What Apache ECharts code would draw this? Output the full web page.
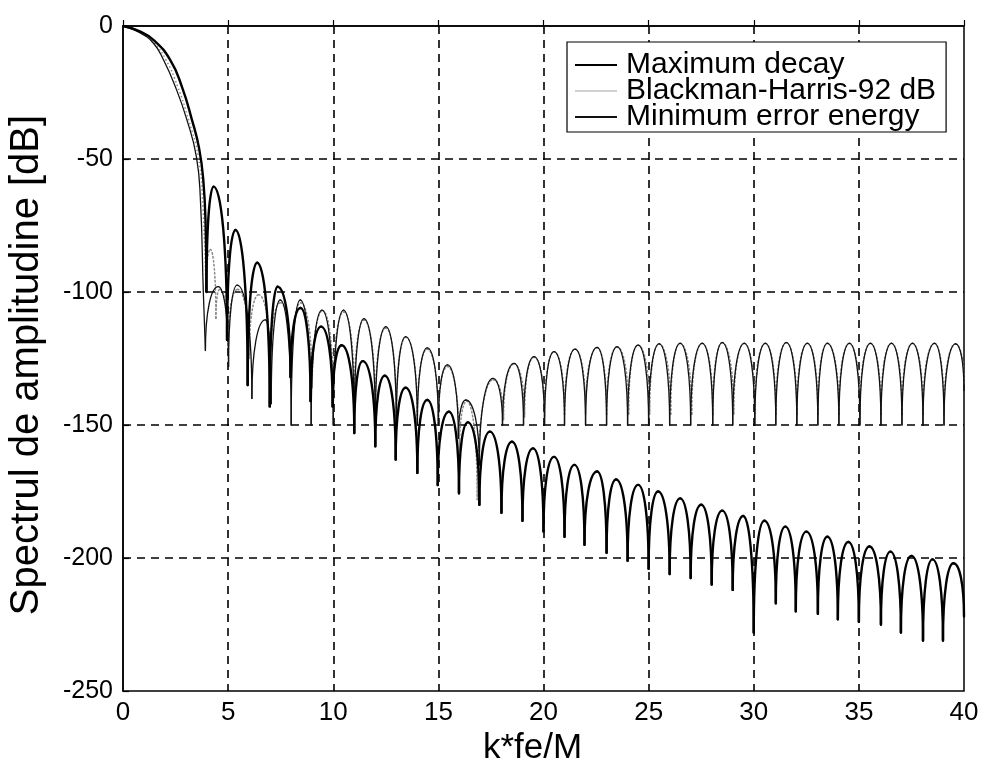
<!DOCTYPE html>
<html><head><meta charset="utf-8">
<script src="https://cdn.jsdelivr.net/npm/echarts/dist/echarts.min.js"></script>
<style>html,body{margin:0;padding:0;background:#fff}#c{width:983px;height:760px}</style>
</head><body><div id="c"></div>
<script>
const xMin = 0, xMax = 40, xStep = 5;
const yMin = -250, yMax = 0, yStep = 50;
const xName = 'k*fe/M';
const yName = 'Spectrul de amplitudine [dB]';
const seriesNames = ['Maximum decay', 'Blackman-Harris-92 dB', 'Minimum error energy'];

// ---- Maximum decay ----
const maxDecayMain = [[0,0],[0.8,-2],[1.46,-5.3],[2.25,-12.8],[2.8,-22.8],[3.28,-35.3],[3.62,-46],[3.82,-58],[3.93,-75],[3.97,-100]];
// alternating nulls / sidelobe peaks
const maxDecayLobes = [[3.97,-100],
 [4.31,-60.4],[4.95,-118],[5.35,-76.7],[5.93,-135],[6.38,-89],[6.98,-143],[7.35,-98],[7.97,-132],[8.44,-106],[8.92,-141],
 [9.42,-113],[9.97,-143],[10.4,-120],[11.0,-153],[11.4,-126],[12.0,-158],[12.45,-131.5],[12.97,-163],[13.44,-136],[14.0,-168],
 [14.47,-140.6],[14.97,-172.6],[15.5,-145],[15.98,-175.7],[16.4,-149],[16.95,-180],[17.45,-152.5],[18.0,-183],[18.5,-156.3],
 [19.0,-186],[19.5,-158.8],[20.0,-190],[20.5,-162],[21.0,-192],[21.47,-165],[21.95,-195],[22.55,-167.5],[23.0,-198],
 [23.45,-170.5],[24.0,-201],[24.5,-172.5],[25.0,-204],[25.45,-175],[26.0,-206],[26.5,-177.6],[27.0,-207.5],[27.5,-180],
 [28.0,-210],[28.5,-182.2],[29.0,-212],[29.5,-184.2],[30.0,-228],[30.5,-186],[31.05,-217],[31.5,-188.2],[32.0,-220],
 [32.5,-190.1],[33.05,-221],[33.5,-192],[34.0,-223],[34.5,-194],[35.0,-224],[35.5,-195.7],[36.05,-225],[36.5,-197.6],
 [37.0,-228],[37.5,-199.2],[38.05,-231],[38.5,-200.5],[39.0,-231],[39.5,-202],[40,-222]];

// ---- Blackman-Harris-92 dB ----
const bhMain = [[0,0],[0.8,-2.3],[1.45,-6.2],[2.05,-12.8],[2.6,-22.8],[3.12,-35.3],[3.58,-49.1],[3.8,-68],[3.95,-100]];
const bhLobes = [[3.95,-100],
 [4.15,-84],[4.42,-110],[4.6,-99],[5.0,-120],[5.45,-99],[6.0,-125],[6.45,-101],[7.0,-128],[7.5,-104],[8.0,-132],[8.45,-104],
 [9.0,-136],[9.5,-107],[10.0,-140],[10.5,-107.5],[11.0,-142],[11.46,-110.5],[12.0,-145],[12.5,-113.5],[13.0,-147],[13.45,-117],
 [14.0,-148],[14.47,-121.5],[15.0,-150],[15.43,-128],[16.0,-160],[16.35,-141],[16.85,-178],[17.6,-133],[18.1,-148],[18.6,-127],
 [19.1,-147],[19.55,-124.5],[20.05,-147],[20.5,-122.5],[21.0,-146],[21.5,-121.5],[22.0,-146],[22.55,-121],[23.0,-146],
 [23.5,-120.6],[24.05,-146],[24.5,-120],[25.05,-146],[25.5,-119.5],[26.05,-146],[26.5,-119.3],[27.05,-146],[27.55,-119.3],
 [28.05,-146],[28.5,-119],[29.05,-146],[29.55,-119.3],[30.05,-146],[30.55,-119.3],[31.05,-146],[31.55,-119],[32.05,-146],
 [32.55,-119.3],[33.05,-146],[33.5,-119.3],[34.05,-146],[34.55,-119.3],[35.05,-146],[35.55,-119.3],[36.05,-146],[36.55,-119.3],
 [37.05,-146],[37.55,-119.3],[38.05,-146],[38.6,-119.3],[39.05,-146],[39.6,-119.5],[40,-135]];

// ---- Minimum error energy ----
const minErrMain = [[0,0],[0.8,-2.5],[1.45,-6.5],[1.93,-12.8],[2.49,-22.8],[3.04,-35.3],[3.49,-49.1],[3.68,-65],[3.82,-100],[3.92,-122]];
const minErrLobes = [[3.92,-122],
 [4.53,-98],[5.02,-128],[5.43,-97.4],[6.13,-140],[6.77,-110.5],[7.05,-142],[7.48,-103],[8.0,-150],[8.43,-103],
 [8.95,-150],[9.46,-106.8],[10.0,-150],[10.49,-106.8],[11.0,-150],[11.46,-110],[12.0,-150],[12.5,-113],[13.0,-150],
 [13.44,-116.8],[14.0,-150],[14.47,-121],[15.0,-150],[15.43,-127.4],[15.95,-155],[16.3,-140.6],[16.95,-165],[17.6,-132.5],
 [18.05,-150],[18.6,-126.8],[19.05,-150],[19.55,-124.3],[20.05,-150],[20.5,-122.4],[21.0,-150],[21.5,-121.5],[22.0,-150],
 [22.55,-120.8],[23.0,-150],[23.5,-120.6],[24.0,-150],[24.5,-120],[25.0,-150],[25.5,-119.5],[26.0,-150],[26.5,-119.3],
 [27.0,-150],[27.55,-119.3],[28.05,-150],[28.5,-119],[29.0,-150],[29.55,-119.3],[30.05,-150],[30.55,-119.3],[31.05,-150],
 [31.55,-119],[32.05,-150],[32.55,-119.3],[33.05,-150],[33.5,-119.3],[34.05,-150],[34.55,-119.3],[35.05,-150],[35.55,-119.3],
 [36.05,-150],[36.55,-119.3],[37.05,-150],[37.55,-119.3],[38.05,-150],[38.6,-119.3],[39.05,-150],[39.6,-119.5],[40,-137]];

const FONT = "'Liberation Sans', Arial, Helvetica, sans-serif";
const STYLES = {
  md: {color: '#000', width: 2.4, dash: null},
  bh: {color: '#8a8a8a', width: 1.5, dash: [1.5, 2.5]},
  me: {color: '#111', width: 1.3, dash: null}
};

// Sidelobe segment drawn as a cubic Bezier between consecutive read points:
// leaves a null vertically and meets a peak horizontally (arch shape).
function makeArchRender(st) {
  const A = 0.62, B = 0.55;
  return function (params, api) {
    const i = params.dataIndexInside;
    if (i === 0) return null;
    const p0 = api.coord([api.value(0, i - 1), api.value(1, i - 1)]);
    const p1 = api.coord([api.value(0, i), api.value(1, i)]);
    const dx = p1[0] - p0[0], dy = p1[1] - p0[1];
    let c1, c2;
    if (dy < 0) { // null -> peak
      c1 = [p0[0], p0[1] + A * dy];
      c2 = [p1[0] - B * dx, p1[1]];
    } else {      // peak -> null
      c1 = [p0[0] + B * dx, p0[1]];
      c2 = [p1[0], p1[1] - A * dy];
    }
    return {
      type: 'bezierCurve',
      shape: {x1: p0[0], y1: p0[1], x2: p1[0], y2: p1[1], cpx1: c1[0], cpy1: c1[1], cpx2: c2[0], cpy2: c2[1]},
      style: {stroke: st.color, lineWidth: st.width, fill: 'none', lineDash: st.dash, lineCap: 'round'}
    };
  };
}
function mainSeries(name, data, st, z) {
  return {name, type: 'line', data, symbol: 'none', smooth: 0.5, z,
    lineStyle: {color: st.color, width: st.width, type: st.dash ? st.dash : 'solid'}, itemStyle: {color: st.color}};
}
function lobeSeries(name, data, st, z) {
  return {name, type: 'custom', data, encode: {x: 0, y: 1}, renderItem: makeArchRender(st), z,
    itemStyle: {color: st.color}, silent: true};
}

const chart = echarts.init(document.getElementById('c'), null, {renderer: 'canvas'});
const splitStyle = {show: true, showMinLine: false, showMaxLine: false,
  lineStyle: {color: '#000', width: 1.6, type: [8, 6]}};
chart.setOption({
  animation: false,
  backgroundColor: '#fff',
  grid: {left: 123, right: 19, top: 26, bottom: 69, show: true, borderColor: '#000', borderWidth: 1.5,
    backgroundColor: 'transparent', containLabel: false, outerBoundsMode: 'none'},
  xAxis: {
    type: 'value', min: xMin, max: xMax, interval: xStep,
    name: xName, nameLocation: 'middle', nameGap: 40,
    nameTextStyle: {fontFamily: FONT, fontSize: 35, color: '#000', padding: [0, 22, 0, 0]},
    axisLine: {show: true, lineStyle: {color: '#000', width: 1.5}},
    axisTick: {show: true, inside: true, length: 6, lineStyle: {color: '#000', width: 1.2}},
    axisLabel: {fontFamily: FONT, fontSize: 26, color: '#000', margin: 9},
    splitLine: splitStyle
  },
  yAxis: {
    type: 'value', min: yMin, max: yMax, interval: yStep,
    name: yName, nameLocation: 'middle', nameGap: 76, nameRotate: 90,
    nameTextStyle: {fontFamily: FONT, fontSize: 40, color: '#000', padding: [0, 13, 0, 0]},
    axisLine: {show: true, lineStyle: {color: '#000', width: 1.5}},
    axisTick: {show: true, inside: true, length: 6, lineStyle: {color: '#000', width: 1.2}},
    axisLabel: {fontFamily: FONT, fontSize: 25, color: '#000', margin: 10},
    splitLine: splitStyle
  },
  legend: {
    orient: 'vertical', left: 567, top: 42,
    data: [
      {name: seriesNames[0], icon: 'rect', itemStyle: {color: '#000'}},
      {name: seriesNames[1], icon: 'rect', itemStyle: {color: '#d0d0d0'}},
      {name: seriesNames[2], icon: 'rect', itemStyle: {color: '#111'}}
    ],
    backgroundColor: '#fff', borderColor: '#000', borderWidth: 1.2, borderRadius: 0,
    padding: [8, 10, 0, 8], itemGap: -4, itemWidth: 42, itemHeight: 2,
    textStyle: {fontFamily: FONT, fontSize: 30, color: '#000', lineHeight: 26, padding: [0, 0, 0, 4]}
  },
  series: [
    mainSeries(seriesNames[1], bhMain, STYLES.bh, 2),
    lobeSeries(seriesNames[1], bhLobes, STYLES.bh, 2),
    mainSeries(seriesNames[2], minErrMain, STYLES.me, 3),
    lobeSeries(seriesNames[2], minErrLobes, STYLES.me, 3),
    mainSeries(seriesNames[0], maxDecayMain, STYLES.md, 4),
    lobeSeries(seriesNames[0], maxDecayLobes, STYLES.md, 4)
  ]
});
</script></body></html>
